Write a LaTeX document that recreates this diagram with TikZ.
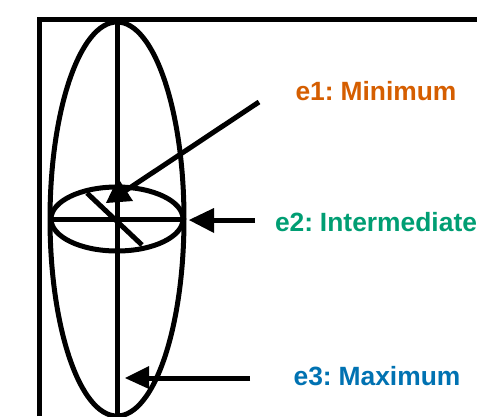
\documentclass[tikz,border=0pt]{standalone}
\usepackage{fontspec}
\setmainfont[WordSpace=0.6]{Liberation Sans}
\definecolor{cone}{RGB}{213,94,0}
\definecolor{ctwo}{RGB}{0,158,115}
\definecolor{cthree}{RGB}{0,114,178}
\tikzset{
 ln/.style={line width=5pt,black},
 lab/.style={font=\bfseries\fontsize{26.4}{30}\selectfont,inner sep=0pt,anchor=center}
}
\begin{document}
\begin{tikzpicture}[x=1pt,y=-1pt]
\useasboundingbox (0,0) rectangle (477,416);
\fill[white] (0,0) rectangle (477,416);
\draw[ln] (39,416) -- (39,19.5) -- (477,19.5);
\draw[ln] (117,219) ellipse [x radius=67,y radius=197];
\draw[ln] (117,219) ellipse [x radius=66,y radius=32];
\coordinate (top) at (117,22);
\coordinate (bot) at (117,416);
\coordinate (l) at (50,219);
\coordinate (r) at (185,219);
\coordinate (a) at (87,193);
\coordinate (b) at (142,245);
\draw[ln] (top) -- (bot);
\draw[ln] (l) -- (r);
\draw[ln] (a) -- (b);
\coordinate (e1s) at (259,102);
\coordinate (e1t) at (122,193);
\coordinate (e2s) at (255,220);
\coordinate (e2t) at (204,220);
\coordinate (e3s) at (250,378);
\coordinate (e3t) at (146,378);
\draw[ln] (e1s) -- (e1t);
\draw[ln] (e2s) -- (e2t);
\draw[ln] (e3s) -- (e3t);
\fill (106,203) -- (118,178) -- (133,201) -- cycle;
\fill (189,220) -- (214,208) -- (214,233) -- cycle;
\fill (125,378) -- (149,366) -- (149,389) -- cycle;
\node[lab,text=cone] (n1) at (376,91) {e1: Minimum};
\node[lab,text=ctwo] (n2) at (376,222) {e2: Intermediate};
\node[lab,text=cthree] (n3) at (377,376) {e3: Maximum};
\end{tikzpicture}
\end{document}
